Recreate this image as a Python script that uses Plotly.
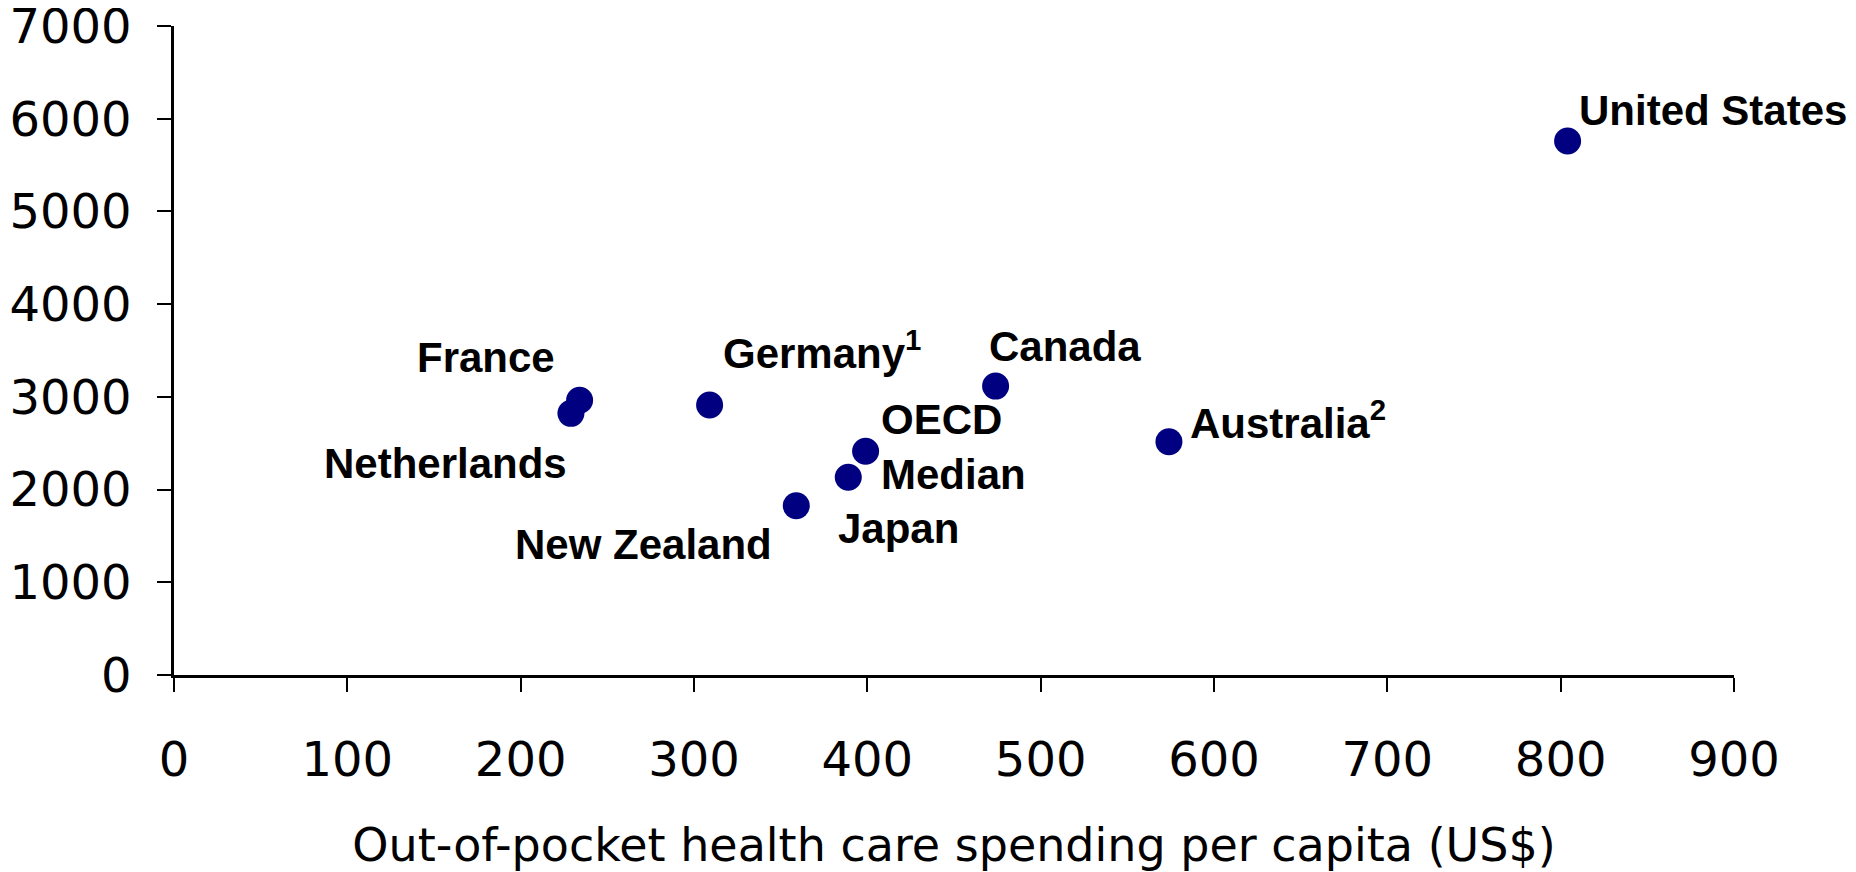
import plotly.graph_objects as go

countries = ["United States", "France", "Netherlands", "Germany<sup>1</sup>", "Canada",
             "OECD<br>Median", "Japan", "New Zealand", "Australia<sup>2</sup>"]
oop_spending = [804, 234, 229, 309, 474, 399, 389, 359, 574]
total_spending = [5760, 2963, 2822, 2912, 3116, 2414, 2133, 1826, 2516]

# label placement (anchor, x offset px, y offset px)
label_anchor = ["left", "right", "right", "left", "left", "left", "left", "right", "left"]
label_dx = [9, -23, -2, 11, -9, 13, -12, -22, 19]
label_dy = [30, 43, -50, 55, 40, 4, -51, -39, 22]

x_ticks = [0, 100, 200, 300, 400, 500, 600, 700, 800, 900]
y_ticks = [0, 1000, 2000, 3000, 4000, 5000, 6000, 7000]

fig = go.Figure()
fig.add_trace(go.Scatter(
    x=oop_spending, y=total_spending, mode="markers",
    marker=dict(size=27, color="#000080", line=dict(width=0)),
    showlegend=False, hoverinfo="skip",
))

for name, xv, yv, anc, dx, dy in zip(countries, oop_spending, total_spending,
                                     label_anchor, label_dx, label_dy):
    fig.add_annotation(
        x=xv, y=yv, xref="x", yref="y", text="<b>" + name + "</b>",
        showarrow=False, xanchor=anc, yanchor="middle", align="left",
        xshift=dx, yshift=dy,
        font=dict(family="Liberation Sans, Arial, sans-serif", size=42, color="black"),
    )

tick_font = dict(family="DejaVu Sans, Verdana, sans-serif", size=48, color="black")

fig.update_xaxes(
    range=[0, 900], tickvals=x_ticks, ticktext=[str(v) for v in x_ticks],
    showgrid=False, zeroline=False, showline=True, linecolor="black", linewidth=2.5,
    ticks="outside", ticklen=14, tickwidth=2, tickcolor="black",
    tickfont=tick_font, ticklabelstandoff=27, ticklabeloverflow="allow",
    title=dict(text="Out-of-pocket health care spending per capita (US$)",
               font=dict(family="DejaVu Sans, Verdana, sans-serif", size=46, color="black"),
               standoff=43),
)
fig.update_yaxes(
    range=[0, 7000], tickvals=y_ticks, ticktext=[str(v) for v in y_ticks],
    showgrid=False, zeroline=False, showline=True, linecolor="black", linewidth=2.5,
    ticks="outside", ticklen=14, tickwidth=2, tickcolor="black",
    tickfont=tick_font, ticklabelstandoff=16, ticklabeloverflow="allow",
)

fig.update_layout(
    width=1856, height=872,
    margin=dict(l=166, r=130, t=18, b=205, autoexpand=False),
    plot_bgcolor="white", paper_bgcolor="white",
)

fig.write_html("out.html")
